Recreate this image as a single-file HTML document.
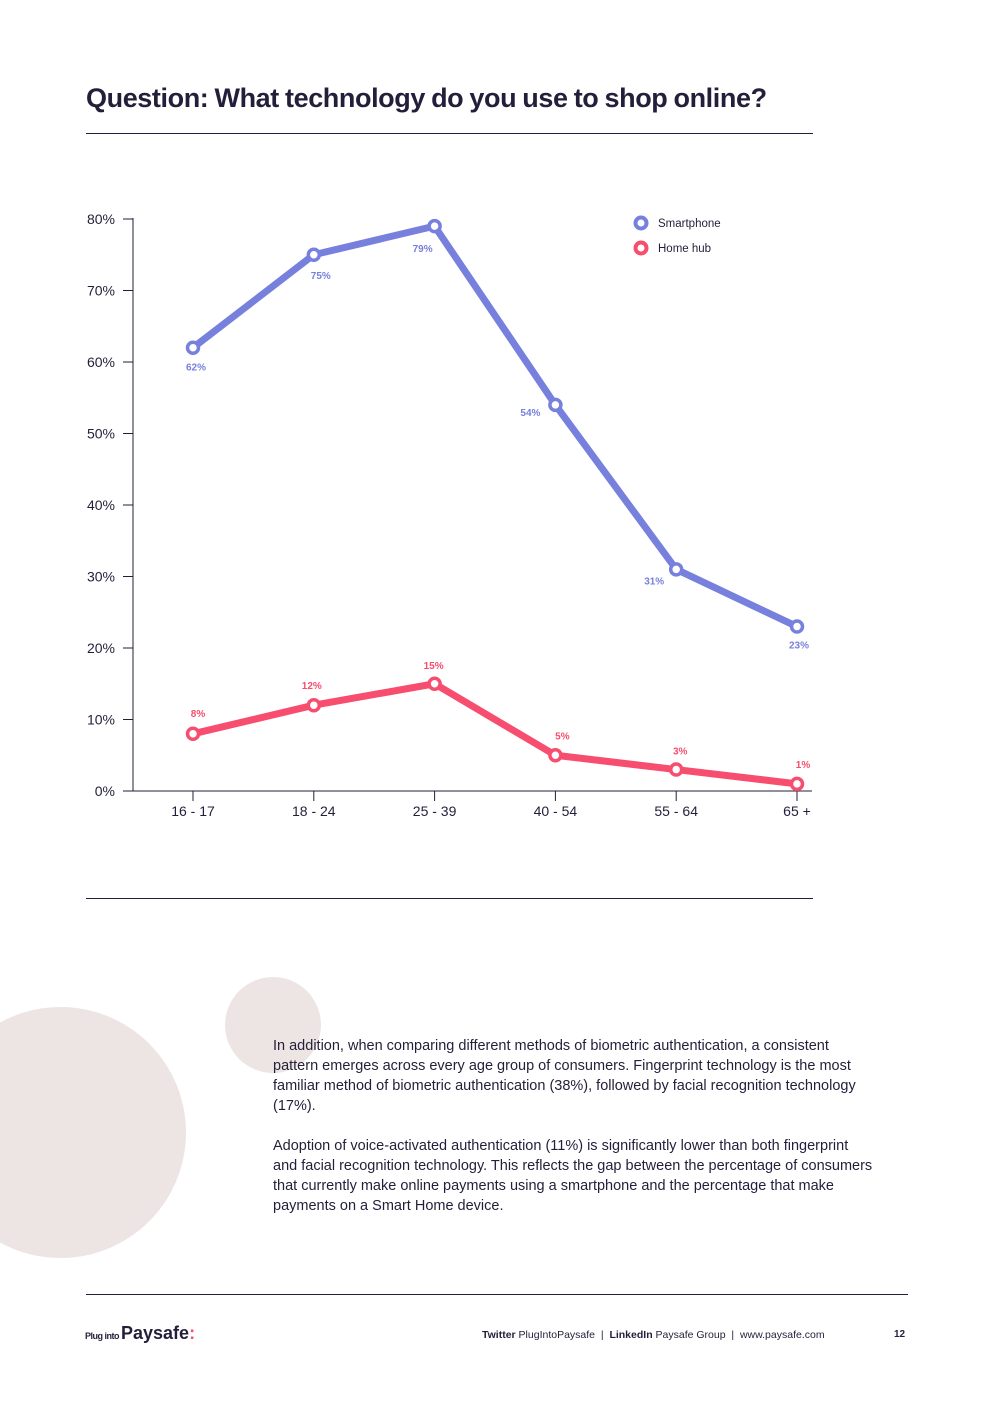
<!DOCTYPE html>
<html><head><meta charset="utf-8"><style>
body{margin:0;width:992px;height:1403px;background:#fff;position:relative;font-family:"Liberation Sans",sans-serif;overflow:hidden}
.abs{position:absolute}
</style></head><body>
<div class="abs" style="left:86px;top:83px;font-size:27px;font-weight:bold;color:#231f3a;letter-spacing:-0.4px;word-spacing:-1px">Question: What technology do you use to shop online?</div>
<div class="abs" style="left:86px;top:133px;width:727px;height:1px;background:#231f3a"></div>
<div class="abs" style="left:86px;top:898px;width:727px;height:1px;background:#231f3a"></div>
<svg class="abs" style="left:0;top:0" width="992" height="900" id="chart"></svg>
<div class="abs" style="left:-65px;top:1007px;width:251px;height:251px;border-radius:50%;background:#ede5e3"></div>
<div class="abs" style="left:225px;top:977px;width:96px;height:96px;border-radius:50%;background:#ede5e3"></div>
<div class="abs" style="left:273px;top:1036px;width:600px;font-size:14.5px;line-height:20px;color:#231f3a">
<p style="margin:0 0 20px">In addition, when comparing different methods of biometric authentication, a consistent pattern emerges across every age group of consumers. Fingerprint technology is the most familiar method of biometric authentication (38%), followed by facial recognition technology (17%).</p>
<p style="margin:0">Adoption of voice-activated authentication (11%) is significantly lower than both fingerprint and facial recognition technology. This reflects the gap between the percentage of consumers that currently make online payments using a smartphone and the percentage that make payments on a Smart Home device.</p></div>
<div class="abs" style="left:86px;top:1294px;width:822px;height:1px;background:#231f3a"></div>
<div class="abs" style="left:85px;top:1323px;color:#231f3a;font-weight:bold"><span style="font-size:9px;letter-spacing:-0.5px">Plug into </span><span style="font-size:18px;letter-spacing:0px">Paysafe</span><span style="color:#f64e6e;font-size:18px">:</span></div>
<div class="abs" style="left:482px;top:1329px;font-size:10.5px;color:#231f3a"><b>Twitter</b> PlugIntoPaysafe &nbsp;|&nbsp; <b>LinkedIn</b> Paysafe Group &nbsp;|&nbsp; www.paysafe.com</div>
<div class="abs" style="left:894px;top:1329px;font-size:10px;font-weight:bold;color:#231f3a">12</div>
<script>
const categories=["16 - 17","18 - 24","25 - 39","40 - 54","55 - 64","65 +"];
const smartphone=[62,75,79,54,31,23];
const homehub=[8,12,15,5,3,1];
const yTicks=[0,10,20,30,40,50,60,70,80];
const svg=document.getElementById('chart');const NS='http://www.w3.org/2000/svg';
const x=i=>193+i*120.8, y=v=>791-v*7.15;
function mk(t,a,p){const e=document.createElementNS(NS,t);for(const k in a)e.setAttribute(k,a[k]);(p||svg).appendChild(e);return e;}
const ax=mk('line',{x1:133,y1:218,x2:133,y2:791,stroke:'#231f3a','stroke-width':1});


const bx=mk('line',{x1:133,y1:791,x2:812,y2:791,stroke:'#231f3a','stroke-width':1});


yTicks.forEach(v=>{const l=mk('line',{x1:123,x2:133,y1:y(v),y2:y(v),stroke:'#231f3a'});


const t=mk('text',{x:115,y:y(v)+5,'text-anchor':'end','font-size':14,fill:'#231f3a','font-family':'Liberation Sans, sans-serif'});t.textContent=v+'%';

});
categories.forEach((c,i)=>{const l=mk('line',{x1:x(i),x2:x(i),y1:791,y2:801,stroke:'#231f3a'});


const t=mk('text',{x:x(i),y:816,'text-anchor':'middle','font-size':14,fill:'#231f3a','font-family':'Liberation Sans, sans-serif'});t.textContent=c;

});
function series(vals,color,name,offs){
 const p=mk('polyline',{points:vals.map((v,i)=>x(i)+','+y(v)).join(' '),fill:'none',stroke:color,'stroke-width':7,'stroke-linejoin':'round'});
 
 
 vals.forEach((v,i)=>{const c=mk('circle',{cx:x(i),cy:y(v),r:5.5,fill:'#fff',stroke:color,'stroke-width':3.5});
 
 
 const t=mk('text',{x:x(i)+offs[i][0],y:y(v)+offs[i][1],'text-anchor':'middle','font-size':10,'font-weight':'bold',fill:color,'font-family':'Liberation Sans, sans-serif'});t.textContent=v+'%';
 
 });
}
series(smartphone,'#7780dc','smartphone',[[3,23],[7,24],[-12,26],[-25,11],[-22,15],[2,22]]);
series(homehub,'#f74d6f','home-hub',[[5,-17],[-2,-16],[-1,-15],[7,-16],[4,-15],[6,-16]]);
[['Smartphone','#7780dc',222],['Home hub','#f74d6f',247]].forEach(([n,c,yy])=>{
 const g=mk('g',{});
 
 
 mk('circle',{cx:641,cy:yy+1,r:5.5,fill:'#fff',stroke:c,'stroke-width':4},g);
 const t=mk('text',{x:658,y:yy+5,'font-size':11.5,fill:'#231f3a','font-family':'Liberation Sans, sans-serif'},g);t.textContent=n;});
</script>
</body></html>
